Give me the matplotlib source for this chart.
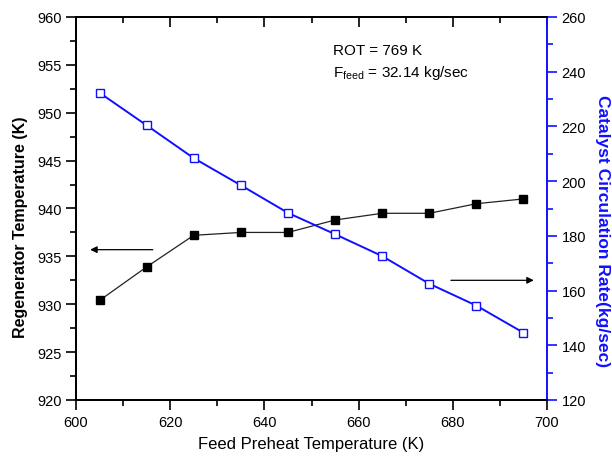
import matplotlib
matplotlib.use("Agg")
import matplotlib.pyplot as plt
from matplotlib.ticker import MultipleLocator

plt.rcParams['font.family'] = ['Liberation Sans', 'DejaVu Sans']
plt.rcParams['mathtext.fontset'] = 'custom'
plt.rcParams['mathtext.rm'] = 'Liberation Sans'
plt.rcParams['mathtext.it'] = 'Liberation Sans:italic'

feed_temp = [605, 615, 625, 635, 645, 655, 665, 675, 685, 695]
regen_temp = [930.4, 933.9, 937.2, 937.5, 937.5, 938.8, 939.5, 939.5, 940.5, 941.0]
cat_circ = [232.3, 220.4, 208.4, 198.5, 188.4, 180.6, 172.6, 162.5, 154.5, 144.6]

fig = plt.figure(figsize=(6.12, 4.6), dpi=100)
ax = fig.add_axes([76/612, 1-401/460, 471/612, 383/460])
ax2 = ax.twinx()

ax.plot(feed_temp, regen_temp, color='#222222', lw=0.9, marker='s', ms=5.5,
        mfc='black', mec='black', zorder=3)
ax2.plot(feed_temp, cat_circ, color='#1010ff', lw=1.4, marker='s', ms=5.5,
         mfc='white', mec='#1010ff', mew=1.0, zorder=3)

ax.set_xlim(600, 700)
ax.set_ylim(920, 960)
ax2.set_ylim(120, 260)

ax.xaxis.set_major_locator(MultipleLocator(20))
ax.xaxis.set_minor_locator(MultipleLocator(10))
ax.yaxis.set_major_locator(MultipleLocator(5))
ax.yaxis.set_minor_locator(MultipleLocator(2.5))
ax2.yaxis.set_major_locator(MultipleLocator(20))
ax2.yaxis.set_minor_locator(MultipleLocator(10))

ax.tick_params(axis='x', which='both', direction='out', top=False, labelsize=10.5, width=1.2, colors='black')
ax.tick_params(axis='x', which='major', length=7)
ax.tick_params(axis='x', which='minor', length=4)
ax.tick_params(axis='y', which='both', direction='out', labelsize=10.5, width=1.2)
ax.tick_params(axis='y', which='major', length=7)
ax.tick_params(axis='y', which='minor', length=4)

sec = ax.secondary_xaxis('top')
sec.xaxis.set_major_locator(MultipleLocator(20))
sec.xaxis.set_minor_locator(MultipleLocator(10))
sec.tick_params(axis='x', which='both', direction='in', labeltop=False, width=1.2)
sec.tick_params(axis='x', which='major', length=7)
sec.tick_params(axis='x', which='minor', length=4)
sec.spines['top'].set_linewidth(1.4)

ax2.tick_params(axis='y', which='both', direction='out', colors='#1010ff', labelcolor='black',
                labelsize=10.5, width=1.2)
ax2.tick_params(axis='y', which='major', length=7)
ax2.tick_params(axis='y', which='minor', length=4)

for s in ['left', 'bottom', 'top']:
    ax.spines[s].set_linewidth(1.4)
    ax2.spines[s].set_linewidth(1.4)
ax2.spines['right'].set_color('#1010ff')
ax2.spines['right'].set_linewidth(1.4)
ax.spines['right'].set_visible(False)

ax.set_xlabel('Feed Preheat Temperature (K)', fontsize=12, labelpad=5)
ax.set_ylabel('Regenerator Temperature (K)', fontsize=11.5, fontweight='bold')
ax.yaxis.set_label_coords(-0.102, 0.454)
ax2.set_ylabel('Catalyst Circulation Rate(kg/sec)', fontsize=12.5, fontweight='bold',
               color='#1010ff', rotation=270, va='center')
ax2.yaxis.set_label_coords(1.117, 0.445)

ax.annotate('', xy=(603.0, 935.7), xytext=(616.3, 935.7),
            arrowprops=dict(arrowstyle='-|>', color='black', lw=0.9,
                            mutation_scale=10, shrinkA=0, shrinkB=0))
ax.annotate('', xy=(697.2, 932.5), xytext=(679.6, 932.5),
            arrowprops=dict(arrowstyle='-|>', color='black', lw=0.9,
                            mutation_scale=10, shrinkA=0, shrinkB=0))

ax.text(654.5, 956.6, 'ROT = 769 K', fontsize=11, va='center', ha='left')
ax.text(654.5, 954.3, r'F$_{\mathrm{feed}}$ = 32.14 kg/sec', fontsize=11, va='center', ha='left')

fig.savefig('out.png', dpi=100)
